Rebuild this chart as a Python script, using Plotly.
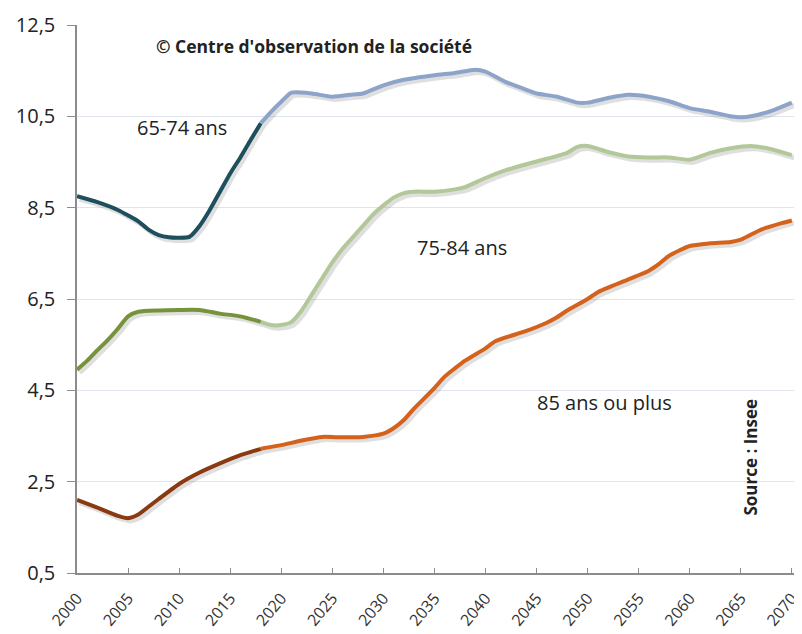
import plotly.graph_objects as go

# 65-74 ans
y6574_hist_years = [2000, 2002, 2004, 2005, 2006, 2007, 2008, 2009, 2010, 2011, 2012, 2013, 2014, 2015, 2016, 2017, 2018]
y6574_hist = [8.75, 8.62, 8.45, 8.33, 8.2, 8.02, 7.9, 7.85, 7.84, 7.86, 8.1, 8.45, 8.85, 9.25, 9.6, 9.98, 10.35]
y6574_proj_years = [2018, 2019, 2020, 2021, 2023, 2025, 2027, 2028, 2030, 2032, 2035, 2037, 2039, 2040, 2042, 2044, 2045, 2047, 2049, 2050, 2052, 2054, 2056, 2058, 2060, 2062, 2064, 2065, 2066, 2068, 2070]
y6574_proj = [10.35, 10.6, 10.82, 11.02, 11.0, 10.93, 10.98, 11.0, 11.18, 11.3, 11.4, 11.45, 11.52, 11.48, 11.25, 11.08, 11.0, 10.93, 10.8, 10.8, 10.9, 10.97, 10.93, 10.83, 10.68, 10.6, 10.5, 10.48, 10.5, 10.62, 10.8]

# 75-84 ans
y7584_hist_years = [2000, 2001, 2002, 2003, 2004, 2005, 2006, 2008, 2010, 2012, 2014, 2016, 2018]
y7584_hist = [4.95, 5.15, 5.38, 5.6, 5.85, 6.12, 6.22, 6.25, 6.26, 6.26, 6.18, 6.12, 6.0]
y7584_proj_years = [2018, 2019, 2020, 2021, 2022, 2023, 2024, 2025, 2026, 2027, 2028, 2029, 2030, 2031, 2032, 2033, 2035, 2037, 2038, 2040, 2042, 2044, 2046, 2048, 2049, 2050, 2052, 2054, 2056, 2058, 2060, 2062, 2064, 2066, 2068, 2070]
y7584_proj = [6.0, 5.93, 5.93, 6.0, 6.25, 6.6, 6.95, 7.3, 7.6, 7.85, 8.1, 8.35, 8.55, 8.72, 8.82, 8.85, 8.85, 8.9, 8.95, 9.15, 9.32, 9.45, 9.57, 9.7, 9.83, 9.85, 9.72, 9.62, 9.6, 9.6, 9.55, 9.7, 9.8, 9.85, 9.78, 9.65]

# 85 ans ou plus
y85_hist_years = [2000, 2002, 2004, 2005, 2006, 2007, 2008, 2010, 2012, 2014, 2016, 2018]
y85_hist = [2.1, 1.93, 1.75, 1.7, 1.78, 1.95, 2.12, 2.45, 2.7, 2.9, 3.08, 3.22]
y85_proj_years = [2018, 2020, 2022, 2024, 2026, 2028, 2030, 2031, 2032, 2033, 2035, 2036, 2037, 2038, 2040, 2041, 2044, 2046, 2047, 2048, 2050, 2051, 2054, 2056, 2057, 2058, 2060, 2062, 2064, 2065, 2067, 2069, 2070]
y85_proj = [3.22, 3.3, 3.4, 3.48, 3.47, 3.48, 3.55, 3.67, 3.85, 4.1, 4.55, 4.8, 4.98, 5.15, 5.42, 5.58, 5.8, 5.98, 6.1, 6.25, 6.5, 6.65, 6.93, 7.12, 7.27, 7.45, 7.66, 7.72, 7.75, 7.8, 8.02, 8.16, 8.22]

x_ticks = list(range(2000, 2071, 5))
y_ticks = [0.5, 2.5, 4.5, 6.5, 8.5, 10.5, 12.5]

series = [
    (y6574_hist_years, y6574_hist, "#1e4f5c"),
    (y6574_proj_years, y6574_proj, "#8ea3ca"),
    (y7584_hist_years, y7584_hist, "#76933c"),
    (y7584_proj_years, y7584_proj, "#b3c898"),
    (y85_hist_years, y85_hist, "#8a3a10"),
    (y85_proj_years, y85_proj, "#d4621c"),
]

fig = go.Figure()
# soft shadows
for xs, ys, col in series:
    fig.add_trace(go.Scatter(x=[v + 0.25 for v in xs], y=[v - 0.06 for v in ys], mode="lines",
                             line=dict(color="rgba(110,110,110,0.22)", width=5, shape="spline", smoothing=0.6),
                             hoverinfo="skip", showlegend=False))
for xs, ys, col in series:
    fig.add_trace(go.Scatter(x=xs, y=ys, mode="lines",
                             line=dict(color=col, width=4, shape="spline", smoothing=0.6),
                             showlegend=False))

font_family = "Open Sans, Noto Sans, sans-serif"

fig.add_annotation(x=2023.2, y=12.04, xref="x", yref="y", text="<b>© Centre d'observation de la société</b>",
                   showarrow=False, font=dict(family=font_family, size=17.5, color="#222"))
fig.add_annotation(x=2010.3, y=10.25, xref="x", yref="y", text="65-74 ans",
                   showarrow=False, font=dict(family=font_family, size=20, color="#222"))
fig.add_annotation(x=2037.7, y=7.62, xref="x", yref="y", text="75-84 ans",
                   showarrow=False, font=dict(family=font_family, size=20, color="#222"))
fig.add_annotation(x=2051.7, y=4.24, xref="x", yref="y", text="85 ans ou plus",
                   showarrow=False, font=dict(family=font_family, size=20, color="#222"))
fig.add_annotation(x=2066.0, y=3.05, xref="x", yref="y", text="<b>Source : Insee</b>", textangle=-90,
                   showarrow=False, font=dict(family=font_family, size=17, color="#222"))

# page body has an 8px margin, so the figure is sized to fit the 802x634 window
fig.update_layout(
    width=794, height=626,
    margin=dict(l=69, r=2, t=17, b=61),
    paper_bgcolor="white", plot_bgcolor="white",
    separators=", ",
    font=dict(family=font_family, color="#222"),
)
fig.update_xaxes(range=[2000, 2070.8], tickvals=x_ticks, ticktext=[str(t) for t in x_ticks],
                 tickangle=-50, tickfont=dict(size=16, color="#333"), ticklabeloverflow="allow",
                 ticklabelstandoff=8, automargin=False,
                 showgrid=False, zeroline=False, showline=True, linecolor="#8c8c8c", linewidth=1.5,
                 ticks="inside", ticklen=5, tickcolor="#8c8c8c")
fig.update_yaxes(range=[0.5, 12.5], tickvals=y_ticks, tickformat=".1f",
                 tickfont=dict(size=20, color="#222"), automargin=False, ticklabelstandoff=8,
                 showgrid=True, gridcolor="#dfe4ef", gridwidth=1, zeroline=False,
                 showline=True, linecolor="#8c8c8c", linewidth=1.5,
                 ticks="outside", ticklen=8, tickcolor="#8c8c8c")

fig.write_html("out.html")
